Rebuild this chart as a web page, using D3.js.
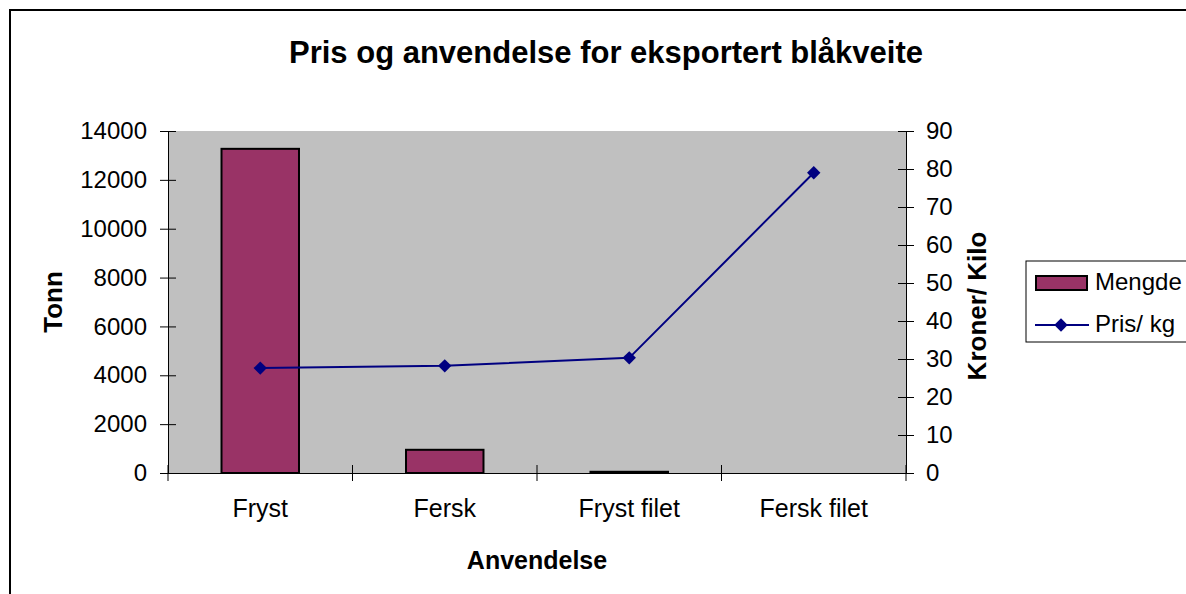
<!DOCTYPE html>
<html>
<head>
<meta charset="utf-8">
<script src="https://cdn.jsdelivr.net/npm/d3@7"></script>
<style>
  body { margin: 0; background: #fff; }
  svg { display: block; font-family: "Liberation Sans", Arial, sans-serif; }
</style>
</head>
<body>
<div id="chart"></div>
<script>
var categories = ["Fryst", "Fersk", "Fryst filet", "Fersk filet"];
var mengde = [13270, 950, 50, 0];          // Tonn
var prisKg = [27.6, 28.2, 30.3, 79.0];      // Kroner/ Kilo
var leftTicks = [0, 2000, 4000, 6000, 8000, 10000, 12000, 14000];
var rightTicks = [0, 10, 20, 30, 40, 50, 60, 70, 80, 90];

var W = 1186, H = 594;
var plot = {left: 168, top: 131, right: 906, bottom: 473};

var svg = d3.select("#chart").append("svg")
    .attr("width", W)
    .attr("height", H);

// outer frame (runs off the right and bottom edge)
svg.append("rect")
    .attr("x", 10).attr("y", 10)
    .attr("width", 1220).attr("height", 620)
    .attr("fill", "#fff")
    .attr("stroke", "#000")
    .attr("stroke-width", 2);

svg.append("text")
    .attr("x", 606).attr("y", 63)
    .attr("text-anchor", "middle")
    .attr("font-size", 31)
    .attr("font-weight", "bold")
    .text("Pris og anvendelse for eksportert blåkveite");

var x = d3.scaleBand().domain(categories).range([plot.left, plot.right]).padding(0);
var yL = d3.scaleLinear().domain([0, 14000]).range([plot.bottom, plot.top]);
var yR = d3.scaleLinear().domain([0, 90]).range([plot.bottom, plot.top]);

svg.append("rect")
    .attr("x", plot.left).attr("y", plot.top)
    .attr("width", plot.right - plot.left)
    .attr("height", plot.bottom - plot.top)
    .attr("fill", "#c0c0c0");

// bars
var barW = x.bandwidth() * 0.42;
svg.append("g").selectAll("rect")
    .data(categories)
    .enter().append("rect")
    .attr("x", function(d) { return x(d) + (x.bandwidth() - barW) / 2; })
    .attr("y", function(d, i) { return yL(mengde[i]); })
    .attr("width", barW)
    .attr("height", function(d, i) { return yL(0) - yL(mengde[i]); })
    .attr("fill", "#993366")
    .attr("stroke", "#000")
    .attr("stroke-width", function(d, i) { return mengde[i] > 0 ? 2 : 0; });

// left axis
var gL = svg.append("g")
    .attr("transform", "translate(" + plot.left + ",0)")
    .call(d3.axisLeft(yL).tickValues(leftTicks).tickFormat(d3.format("d"))
        .tickSizeOuter(0).tickSize(8).tickPadding(13));
gL.selectAll(".tick line").attr("x1", 8).attr("x2", -8);
gL.selectAll("text").attr("font-size", 24).attr("font-family", "Liberation Sans, Arial").attr("fill", "#000");

// right axis
var gR = svg.append("g")
    .attr("transform", "translate(" + plot.right + ",0)")
    .call(d3.axisRight(yR).tickValues(rightTicks).tickSizeOuter(0).tickSize(8).tickPadding(12));
gR.selectAll(".tick line").attr("x1", -8).attr("x2", 8);
gR.selectAll("text").attr("font-size", 24).attr("font-family", "Liberation Sans, Arial").attr("fill", "#000");

// bottom axis: labels at band centres, ticks on band edges
var gB = svg.append("g")
    .attr("transform", "translate(0," + plot.bottom + ")")
    .call(d3.axisBottom(x).tickSize(0).tickSizeOuter(0));
gB.selectAll(".tick text").attr("font-size", 25).attr("font-family", "Liberation Sans, Arial")
    .attr("fill", "#000").attr("dy", 0).attr("y", 44);
gB.selectAll(".tick line").remove();
var edges = categories.map(function(c) { return x(c); }).concat([plot.right]);
gB.selectAll(".edge").data(edges).enter().append("line")
    .attr("class", "edge")
    .attr("x1", function(d) { return d; }).attr("x2", function(d) { return d; })
    .attr("y1", -8).attr("y2", 8)
    .attr("stroke", "#000");

// price line
var line = d3.line()
    .x(function(d, i) { return x(categories[i]) + x.bandwidth() / 2; })
    .y(function(d) { return yR(d); });
svg.append("path")
    .datum(prisKg)
    .attr("d", line)
    .attr("fill", "none")
    .attr("stroke", "#000080")
    .attr("stroke-width", 2);

var diamond = d3.symbol().type(d3.symbolSquare).size(90);
svg.append("g").selectAll("path")
    .data(prisKg)
    .enter().append("path")
    .attr("d", diamond)
    .attr("transform", function(d, i) {
        return "translate(" + (x(categories[i]) + x.bandwidth() / 2) + "," + yR(d) + ") rotate(45)";
    })
    .attr("fill", "#000080");

// axis titles
svg.append("text")
    .attr("transform", "translate(62,302) rotate(-90)")
    .attr("text-anchor", "middle")
    .attr("font-size", 26).attr("font-weight", "bold")
    .text("Tonn");
svg.append("text")
    .attr("transform", "translate(986,306) rotate(-90)")
    .attr("text-anchor", "middle")
    .attr("font-size", 26).attr("font-weight", "bold")
    .text("Kroner/ Kilo");
svg.append("text")
    .attr("x", 537).attr("y", 569)
    .attr("text-anchor", "middle")
    .attr("font-size", 25).attr("font-weight", "bold")
    .text("Anvendelse");

// legend
var lg = svg.append("g");
lg.append("rect")
    .attr("x", 1026).attr("y", 261)
    .attr("width", 200).attr("height", 81)
    .attr("fill", "#fff").attr("stroke", "#000").attr("stroke-width", 1);
lg.append("rect")
    .attr("x", 1036).attr("y", 276)
    .attr("width", 51).attr("height", 14)
    .attr("fill", "#993366").attr("stroke", "#000").attr("stroke-width", 2);
lg.append("text").attr("x", 1095).attr("y", 290).attr("font-size", 24).text("Mengde");
lg.append("line")
    .attr("x1", 1035).attr("x2", 1089).attr("y1", 325).attr("y2", 325)
    .attr("stroke", "#000080").attr("stroke-width", 2);
lg.append("path")
    .attr("d", diamond)
    .attr("transform", "translate(1061,325) rotate(45)")
    .attr("fill", "#000080");
lg.append("text").attr("x", 1095).attr("y", 332).attr("font-size", 24).text("Pris/ kg");
</script>
</body>
</html>
